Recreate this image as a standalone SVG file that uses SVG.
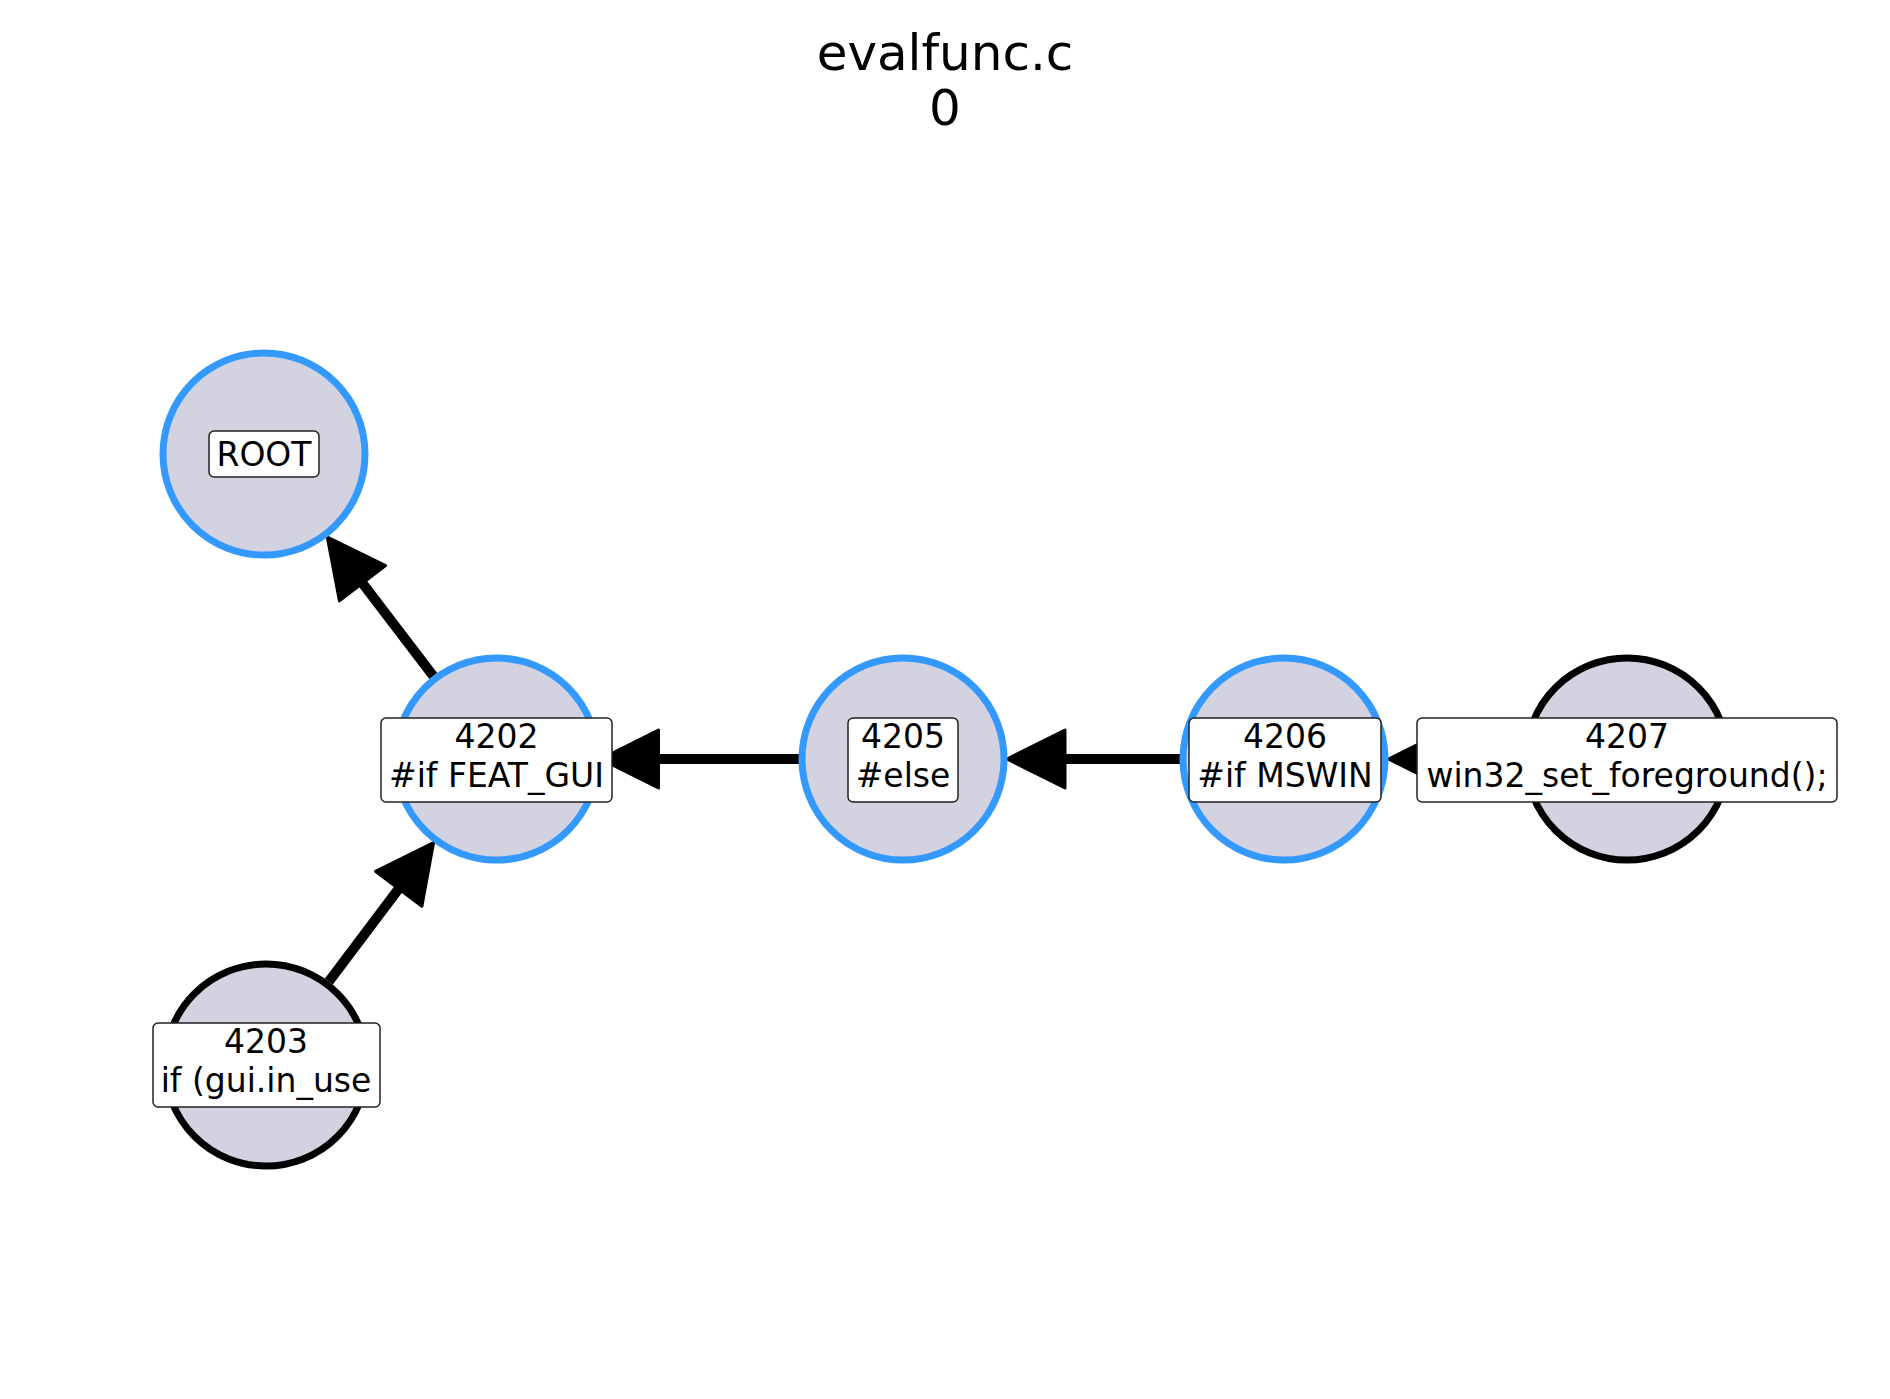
<svg xmlns="http://www.w3.org/2000/svg" width="1890" height="1399" viewBox="0 0 1890 1399">
<style>
text{font-family:"DejaVu Sans","Liberation Sans",sans-serif;fill:#000;text-anchor:middle}
.t{font-size:50px}
.l{font-size:33px}
.c{fill:#d2d2e0;stroke-width:7}
.b{stroke:#3399ff}
.k{stroke:#000}
.box{fill:#fff;stroke:#222;stroke-width:1.5}
.e{stroke:#000;stroke-width:10;fill:none}
.h{fill:#000;stroke:#000;stroke-width:3;stroke-linejoin:round}
</style>
<rect width="1890" height="1399" fill="#fff"/>
<g id="title">
<text class="t" x="945" y="70">evalfunc.c</text>
<text class="t" x="945" y="125">0</text>
</g>
<g id="connectors">
<line class="e" x1="433.3" y1="676" x2="362.5" y2="583.2"/>
<polygon class="h" points="327.3,537.1 385.6,565.6 339.4,600.8"/>
<line class="e" x1="328.9" y1="981.5" x2="398.7" y2="888.8"/>
<polygon class="h" points="433.6,842.5 421.9,906.2 375.5,871.4"/>
<line class="e" x1="799" y1="759" x2="658.5" y2="759"/>
<polygon class="h" points="600.5,759 658.5,730 658.5,788"/>
<line class="e" x1="1180" y1="759" x2="1065" y2="759"/>
<polygon class="h" points="1007,759 1065,730 1065,788"/>
<line class="e" x1="1523" y1="759" x2="1446" y2="759"/>
<polygon class="h" points="1388.5,759 1446.5,730 1446.5,788"/>
</g>
<g id="node-root">
<circle class="c b" cx="264" cy="454" r="101"/>
<rect class="box" x="209" y="431" width="110" height="46" rx="5"/>
<text class="l" x="264" y="466">ROOT</text>
</g>
<g id="node-4202">
<circle class="c b" cx="496.5" cy="759" r="101"/>
<rect class="box" x="381" y="718" width="231" height="84" rx="5"/>
<text class="l" x="496.5" y="748">4202</text>
<text class="l" x="496.5" y="787">#if FEAT_GUI</text>
</g>
<g id="node-4203">
<circle class="c k" cx="266" cy="1065" r="101"/>
<rect class="box" x="153" y="1023" width="227" height="84" rx="5"/>
<text class="l" x="266" y="1053">4203</text>
<text class="l" x="266" y="1092">if (gui.in_use</text>
</g>
<g id="node-4205">
<circle class="c b" cx="903" cy="759" r="101"/>
<rect class="box" x="848" y="718" width="110" height="84" rx="5"/>
<text class="l" x="903" y="748">4205</text>
<text class="l" x="903" y="787">#else</text>
</g>
<g id="node-4206">
<circle class="c b" cx="1284" cy="759" r="101"/>
<rect class="box" x="1189" y="718" width="192" height="84" rx="5"/>
<text class="l" x="1285" y="748">4206</text>
<text class="l" x="1285" y="787">#if MSWIN</text>
</g>
<g id="node-4207">
<circle class="c k" cx="1627" cy="759" r="101"/>
<rect class="box" x="1417" y="718" width="420" height="84" rx="5"/>
<text class="l" x="1627" y="748">4207</text>
<text class="l" x="1627" y="787">win32_set_foreground();</text>
</g>
</svg>
